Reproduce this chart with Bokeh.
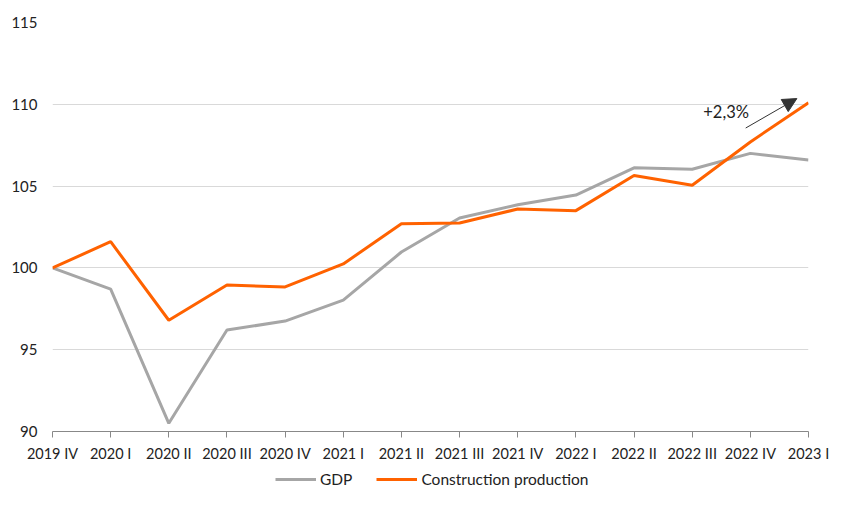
from bokeh.plotting import figure
from bokeh.layouts import column
from bokeh.models import (Range1d, FixedTicker, Legend, LegendItem, Arrow,
                          NormalHead, Label, ColumnDataSource)
from bokeh.embed import file_html
from bokeh.resources import INLINE

quarters = ["2019 IV", "2020 I", "2020 II", "2020 III", "2020 IV", "2021 I", "2021 II",
            "2021 III", "2021 IV", "2022 I", "2022 II", "2022 III", "2022 IV", "2023 I"]
gdp = [100.0, 98.7, 90.5, 96.2, 96.75, 98.03, 100.97, 103.05, 103.86, 104.45, 106.12, 106.03, 107.0, 106.6]
construction = [100.0, 101.6, 96.8, 98.95, 98.84, 100.24, 102.7, 102.74, 103.6, 103.5, 105.65, 105.05, 107.7, 110.1]
y_ticks = [90, 95, 100, 105, 110, 115]
series_names = ["GDP", "Construction production"]

# annotation (growth arrow)
arrow_from = (11.92, 108.55)
arrow_to = (12.80, 110.35)
arrow_label = "+2,3%"
label_pos = (11.19, 109.5)

FONT = "Lato"
GDP_COLOR = "#a6a6a6"
CON_COLOR = "#ff6200"

xs = list(range(len(quarters)))
src = ColumnDataSource(dict(x=xs, gdp=gdp, con=construction))

p = figure(width=856, height=464, output_backend="svg", toolbar_location=None,
           x_range=Range1d(0, len(quarters) - 1), y_range=Range1d(90, 115),
           min_border_left=52, min_border_right=48, min_border_top=22, min_border_bottom=32)
p.outline_line_color = None
p.background_fill_color = "white"

r_gdp = p.line("x", "gdp", source=src, line_color=GDP_COLOR, line_width=3)
r_con = p.line("x", "con", source=src, line_color=CON_COLOR, line_width=3)

# axes
p.xaxis.ticker = FixedTicker(ticks=xs)
p.xaxis.major_label_overrides = {i: q for i, q in enumerate(quarters)}
p.xaxis.axis_line_color = "#888888"
p.xaxis.major_tick_line_color = "#888888"
p.xaxis.major_tick_out = 6
p.xaxis.major_tick_in = 0
p.xaxis.minor_tick_line_color = None
p.xaxis.major_label_text_font = FONT
p.xaxis.major_label_text_font_size = "14.5px"
p.xaxis.major_label_text_color = "#222222"
p.xaxis.major_label_standoff = 7

p.yaxis.ticker = FixedTicker(ticks=y_ticks)
p.yaxis.axis_line_color = None
p.yaxis.major_tick_line_color = None
p.yaxis.major_tick_out = 0
p.yaxis.major_tick_in = 0
p.yaxis.minor_tick_line_color = None
p.yaxis.major_label_text_font = FONT
p.yaxis.major_label_text_font_size = "15px"
p.yaxis.major_label_text_color = "#222222"
p.yaxis.major_label_standoff = 15

p.xgrid.grid_line_color = None
p.ygrid.grid_line_color = "#d9d9d9"
p.ygrid.grid_line_width = 1

# arrow annotation
p.add_layout(Arrow(end=NormalHead(size=14, fill_color="#333333", line_color="#333333"),
                   x_start=arrow_from[0], y_start=arrow_from[1],
                   x_end=arrow_to[0], y_end=arrow_to[1],
                   line_color="#333333", line_width=1))
p.add_layout(Label(x=label_pos[0], y=label_pos[1], text=arrow_label,
                   text_font=FONT, text_font_size="16.5px", text_color="#222222",
                   text_baseline="middle", text_align="left"))

# legend in a strip below the chart
lg = figure(width=856, height=45, output_backend="svg", toolbar_location=None,
            x_range=Range1d(0, 1), y_range=Range1d(0, 1), min_border=0,
            x_axis_type=None, y_axis_type=None)
lg.outline_line_color = None
lg.xgrid.grid_line_color = None
lg.ygrid.grid_line_color = None
lg_gdp = lg.line([float("nan")], [float("nan")], line_color=GDP_COLOR, line_width=3)
lg_con = lg.line([float("nan")], [float("nan")], line_color=CON_COLOR, line_width=3)
legend = Legend(items=[LegendItem(label=series_names[0], renderers=[lg_gdp]),
                       LegendItem(label=series_names[1], renderers=[lg_con])],
                orientation="horizontal", location=(223, 21),
                label_text_font=FONT, label_text_font_size="15.5px", label_text_color="#222222",
                glyph_width=41, glyph_height=16, spacing=24, label_standoff=4,
                border_line_color=None, background_fill_alpha=0, padding=4, margin=0)
lg.add_layout(legend)

open("out.html", "w").write(file_html(column(p, lg), INLINE))
